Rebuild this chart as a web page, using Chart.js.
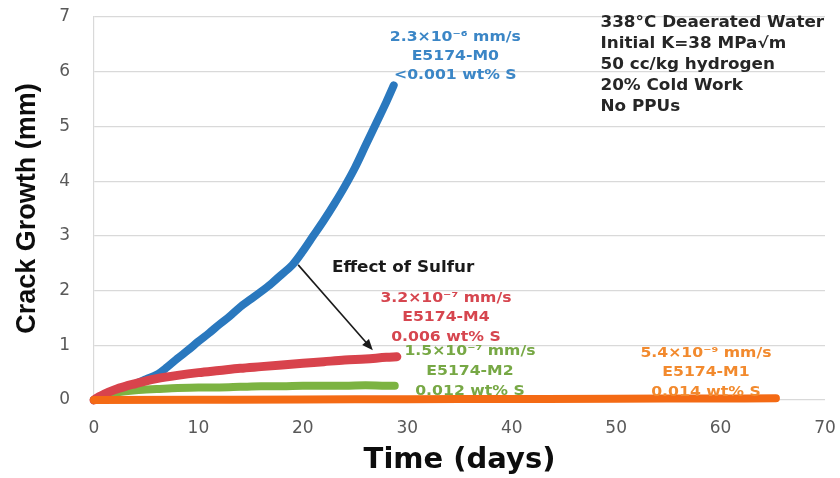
<!DOCTYPE html>
<html>
<head>
<meta charset="utf-8">
<title>Crack Growth vs Time</title>
<script src="https://cdn.jsdelivr.net/npm/chart.js@4/dist/chart.umd.min.js"></script>
<style>
  html, body { margin: 0; padding: 0; background: #ffffff; }
  #wrap { position: relative; width: 840px; height: 478px; }
</style>
</head>
<body>
<div id="wrap"><canvas id="chart"></canvas></div>
<script>
// Crack length (mm) against exposure time (days) for four heats of material
const xTicks = [0, 10, 20, 30, 40, 50, 60, 70];
const yTicks = [0, 1, 2, 3, 4, 5, 6, 7];

// E5174-M0, <0.001 wt% S
const m0Days = [0, 1, 2, 3, 4, 5, 6, 7, 8, 9, 10, 11, 12, 13, 14, 15, 16, 17, 18, 19, 20, 21, 22, 23, 24, 25, 26, 27, 28, 28.7];
const m0Mm   = [0, 0.08, 0.15, 0.23, 0.3, 0.38, 0.46, 0.6, 0.76, 0.91, 1.07, 1.22, 1.38, 1.53, 1.7, 1.84, 1.98, 2.13, 2.3, 2.47, 2.72, 3.0, 3.28, 3.58, 3.9, 4.25, 4.65, 5.05, 5.45, 5.75];

// E5174-M4, 0.006 wt% S
const m4Days = [0, 0.5, 1, 2, 3, 4, 5, 6, 8, 10, 12, 14, 16, 18, 20, 22, 24, 26, 28, 29];
const m4Mm   = [0, 0.06, 0.11, 0.19, 0.25, 0.3, 0.35, 0.39, 0.45, 0.5, 0.54, 0.58, 0.61, 0.64, 0.67, 0.7, 0.73, 0.75, 0.78, 0.79];

// E5174-M2, 0.012 wt% S
const m2Days = [0, 0.5, 1, 2, 3, 4, 5, 6, 8, 10, 12, 14, 16, 18, 20, 22, 24, 26, 28, 28.8];
const m2Mm   = [0, 0.04, 0.08, 0.13, 0.16, 0.18, 0.19, 0.2, 0.22, 0.23, 0.23, 0.24, 0.25, 0.25, 0.26, 0.26, 0.26, 0.27, 0.26, 0.26];

// E5174-M1, 0.014 wt% S
const m1Days = [0, 10, 20, 30, 40, 50, 60, 65.3];
const m1Mm   = [0, 0.005, 0.01, 0.014, 0.019, 0.023, 0.028, 0.03];

// Rate / heat / sulfur labels
const m0Label = ['2.3\u00d710\u207b\u2076 mm/s', 'E5174-M0', '<0.001 wt% S'];
const m4Label = ['3.2\u00d710\u207b\u2077 mm/s', 'E5174-M4', '0.006 wt% S'];
const m2Label = ['1.5\u00d710\u207b\u2077 mm/s', 'E5174-M2', '0.012 wt% S'];
const m1Label = ['5.4\u00d710\u207b\u2079 mm/s', 'E5174-M1', '0.014 wt% S'];
const testConditions = ['338\u00b0C Deaerated Water', 'Initial K=38 MPa\u221am', '50 cc/kg hydrogen', '20% Cold Work', 'No PPUs'];
const sulfurNote = 'Effect of Sulfur';

// Where each note sits, in data units (days, mm)
const m0LabelAt = [34.6, 6.62];
const m4LabelAt = [33.7, 1.86];
const m2LabelAt = [36.0, 0.88];
const m1LabelAt = [58.6, 0.86];
const conditionsAt = [48.5, 6.89];
const sulfurNoteAt = [29.6, 2.41];
const sulfurArrowFrom = [19.55, 2.47];
const sulfurArrowTo = [26.7, 0.91];

const toPoints = (xs, ys) => xs.map((x, i) => ({ x: x, y: ys[i] }));

const TEXT_STRETCH = 1.12;

function drawLines(ctx, lines, px, py, gap, align) {
  lines.forEach((line, i) => {
    ctx.save();
    ctx.translate(px, py + i * gap);
    ctx.scale(TEXT_STRETCH, 1);
    ctx.textAlign = align;
    ctx.textBaseline = 'middle';
    ctx.fillText(line, 0, 0);
    ctx.restore();
  });
}

const notesPlugin = {
  id: 'notes',
  afterDatasetsDraw(chart) {
    const ctx = chart.ctx;
    const xs = chart.scales.x, ys = chart.scales.y;
    const P = (pt) => [xs.getPixelForValue(pt[0]), ys.getPixelForValue(pt[1])];

    ctx.save();
    ctx.font = 'bold 14px "DejaVu Sans"';
    const labels = [
      [m0Label, m0LabelAt, '#3b86c6', 19],
      [m4Label, m4LabelAt, '#d6464f', 19.5],
      [m2Label, m2LabelAt, '#77a845', 20],
      [m1Label, m1LabelAt, '#f28a2e', 19.5]
    ];
    labels.forEach(([lines, at, color, gap]) => {
      const [px, py] = P(at);
      ctx.fillStyle = color;
      drawLines(ctx, lines, px, py, gap, 'center');
    });

    ctx.font = 'bold 15px "DejaVu Sans"';
    ctx.fillStyle = '#262626';
    const [cx, cy] = P(conditionsAt);
    drawLines(ctx, testConditions, cx, cy, 21, 'left');

    const [sx, sy] = P(sulfurNoteAt);
    ctx.fillStyle = '#1a1a1a';
    drawLines(ctx, [sulfurNote], sx, sy, 0, 'center');

    // arrow pointing from the low-sulfur curve toward the higher-sulfur curves
    const [ax, ay] = P(sulfurArrowFrom);
    const [bx, by] = P(sulfurArrowTo);
    const ang = Math.atan2(by - ay, bx - ax);
    const head = 11;
    ctx.strokeStyle = '#1a1a1a';
    ctx.lineWidth = 1.6;
    ctx.beginPath();
    ctx.moveTo(ax, ay);
    ctx.lineTo(bx - Math.cos(ang) * head * 0.8, by - Math.sin(ang) * head * 0.8);
    ctx.stroke();
    ctx.fillStyle = '#1a1a1a';
    ctx.beginPath();
    ctx.moveTo(bx, by);
    ctx.lineTo(bx - head * Math.cos(ang) + 4.5 * Math.sin(ang), by - head * Math.sin(ang) - 4.5 * Math.cos(ang));
    ctx.lineTo(bx - head * Math.cos(ang) - 4.5 * Math.sin(ang), by - head * Math.sin(ang) + 4.5 * Math.cos(ang));
    ctx.closePath();
    ctx.fill();
    ctx.restore();
  }
};

const lineStyle = (color, width, order) => ({
  borderColor: color,
  backgroundColor: color,
  borderWidth: width,
  pointRadius: 0,
  borderCapStyle: 'round',
  borderJoinStyle: 'round',
  cubicInterpolationMode: 'monotone',
  fill: false,
  clip: false,
  order: order
});

new Chart(document.getElementById('chart'), {
  type: 'line',
  data: {
    datasets: [
      Object.assign({ label: 'E5174-M0', data: toPoints(m0Days, m0Mm) }, lineStyle('#2a78be', 8, 3)),
      Object.assign({ label: 'E5174-M2', data: toPoints(m2Days, m2Mm) }, lineStyle('#7cb342', 8, 2)),
      Object.assign({ label: 'E5174-M4', data: toPoints(m4Days, m4Mm) }, lineStyle('#d8434c', 9, 1)),
      Object.assign({ label: 'E5174-M1', data: toPoints(m1Days, m1Mm) }, lineStyle('#f46a14', 8, 0))
    ]
  },
  options: {
    responsive: true,
    maintainAspectRatio: false,
    animation: false,
    layout: { padding: { left: 6, right: 15, top: 17, bottom: 0 } },
    plugins: { legend: { display: false }, tooltip: { enabled: false } },
    scales: {
      x: {
        type: 'linear',
        min: xTicks[0],
        max: xTicks[xTicks.length - 1],
        afterBuildTicks: (s) => { s.ticks = xTicks.map(v => ({ value: v })); },
        afterFit: (s) => { s.height = 78; s.paddingLeft = 0; s.paddingRight = 0; },
        grid: { display: false, drawTicks: false },
        border: { display: false },
        ticks: { color: '#595959', font: { family: '"DejaVu Sans"', size: 17 }, padding: 18 },
        title: {
          display: true,
          text: 'Time (days)',
          color: '#0d0d0d',
          font: { family: '"DejaVu Sans"', size: 29, weight: 'bold' },
          padding: { top: 5, bottom: 0 }
        }
      },
      y: {
        type: 'linear',
        min: yTicks[0],
        max: yTicks[yTicks.length - 1],
        afterBuildTicks: (s) => { s.ticks = yTicks.map(v => ({ value: v })); },
        afterFit: (s) => { s.width = 88; s.paddingTop = 0; s.paddingBottom = 0; },
        grid: { color: '#d9d9d9', lineWidth: 1.2, drawTicks: false },
        border: { display: true, color: '#d9d9d9', width: 1.2 },
        ticks: { color: '#595959', font: { family: '"DejaVu Sans"', size: 17 }, padding: 24 },
        title: {
          display: true,
          text: 'Crack Growth (mm)',
          color: '#0d0d0d',
          font: { family: '"Liberation Sans"', size: 27, weight: 'bold' },
          padding: { top: 5, bottom: 16 }
        }
      }
    }
  },
  plugins: [notesPlugin]
});
</script>
</body>
</html>
